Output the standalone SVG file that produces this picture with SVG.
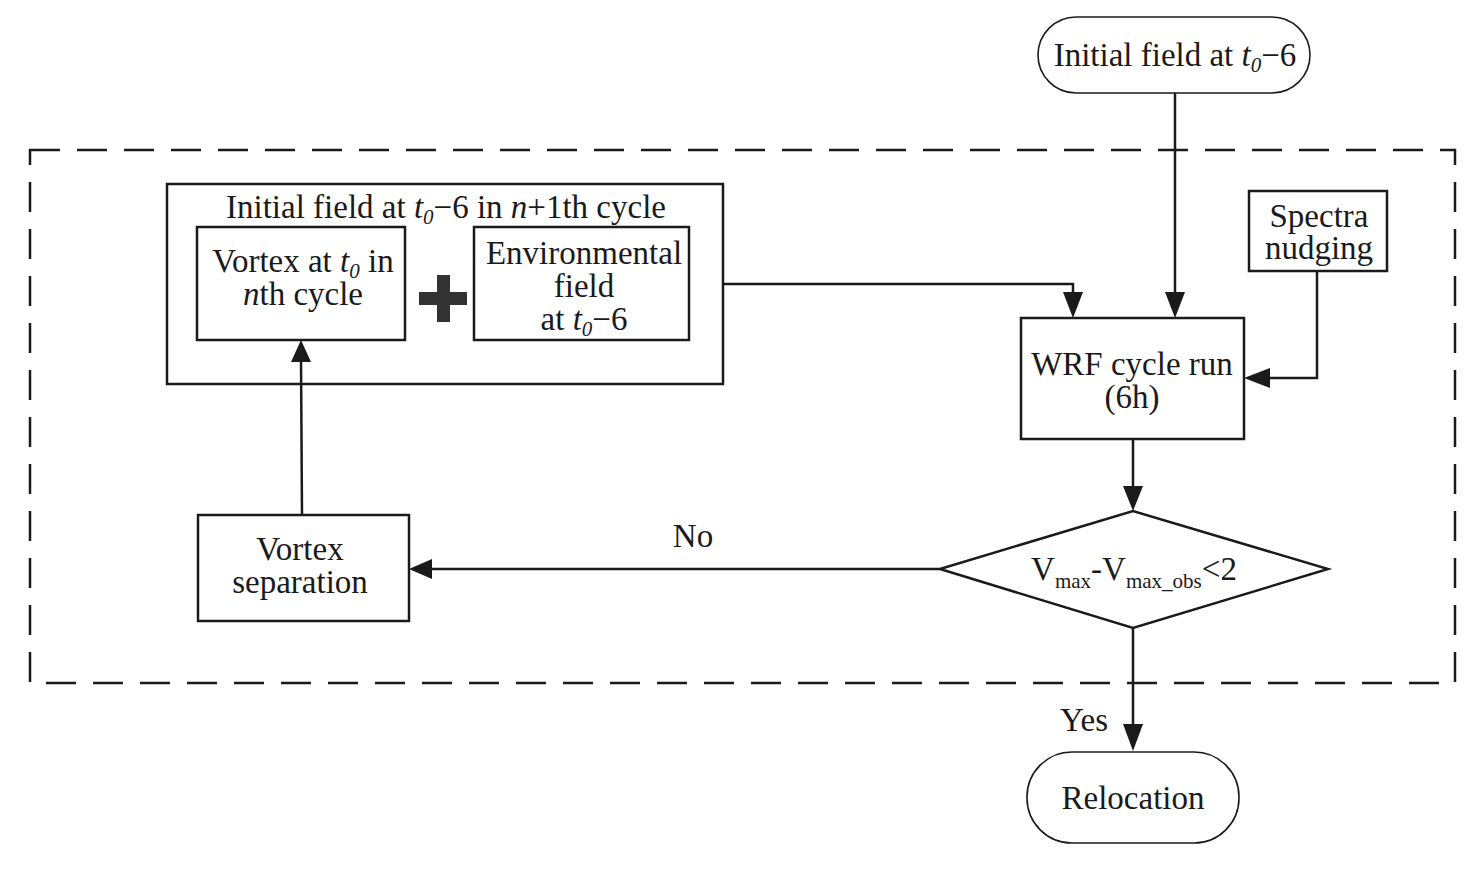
<svg xmlns="http://www.w3.org/2000/svg" width="1481" height="869" viewBox="0 0 1481 869">
<defs>
<style>
text{font-family:"Liberation Serif","Times New Roman",serif;font-size:33px;fill:#1a1a1a;text-anchor:middle}
.box{fill:none;stroke:#1a1a1a;stroke-width:2.5}
.pill{fill:none;stroke:#1a1a1a;stroke-width:1.6}
.ln{fill:none;stroke:#1a1a1a;stroke-width:2.5}
.i{font-style:italic}
.sub{font-size:21px;font-style:italic}
.s2{font-size:21px}
</style>
</defs>
<rect width="1481" height="869" fill="#fff"/>
<rect x="30" y="150" width="1425" height="533" fill="none" stroke="#1a1a1a" stroke-width="2.5" stroke-dasharray="30,17"/>

<g id="connectors">
<path class="ln" d="M723,284 H1073 V296" />
<path d="M1063,292 L1083,292 L1073,318 Z" fill="#1a1a1a"/>
<path class="ln" d="M1175,93 V296"/>
<path d="M1165,292 L1185,292 L1175,318 Z" fill="#1a1a1a"/>
<path class="ln" d="M1317,271 V378 H1266"/>
<path d="M1270,368 L1270,388 L1244,378 Z" fill="#1a1a1a"/>
<path class="ln" d="M1133,439 V490"/>
<path d="M1123,486 L1143,486 L1133,511 Z" fill="#1a1a1a"/>
<path class="ln" d="M940,569 H428"/>
<path d="M432,559 L432,579 L409,569 Z" fill="#1a1a1a"/>
<path class="ln" d="M302,515 L301,360"/>
<path d="M291,362 L311,362 L301,340 Z" fill="#1a1a1a"/>
<path class="ln" d="M1133,628 V728"/>
<path d="M1123,724 L1143,724 L1133,751 Z" fill="#1a1a1a"/>
<text x="693" y="547">No</text>
<text x="1084" y="731">Yes</text>
</g>

<g id="initial-top">
<rect class="pill" x="1038" y="17" width="272" height="76" rx="38"/>
<text x="1175" y="66">Initial field at <tspan class="i">t</tspan><tspan class="sub" dy="6">0</tspan><tspan dy="-6">−6</tspan></text>
</g>

<g id="initial-n1">
<rect class="box" x="167" y="184" width="556" height="200"/>
<text x="446" y="218">Initial field at <tspan class="i">t</tspan><tspan class="sub" dy="6">0</tspan><tspan dy="-6">−6 in </tspan><tspan class="i">n</tspan>+1th cycle</text>
</g>

<g id="vortex-nth">
<rect class="box" x="197" y="227" width="208" height="113"/>
<text x="303" y="272">Vortex at <tspan class="i">t</tspan><tspan class="sub" dy="6">0</tspan><tspan dy="-6"> in</tspan></text>
<text x="303" y="305"><tspan class="i">n</tspan>th cycle</text>
</g>

<g id="plus">
<rect x="419" y="292" width="48" height="13" fill="#333"/>
<rect x="437" y="275" width="13" height="47" fill="#333"/>
</g>

<g id="env">
<rect class="box" x="474" y="227" width="215" height="113"/>
<text x="584" y="264">Environmental</text>
<text x="584" y="297">field</text>
<text x="584" y="330">at <tspan class="i">t</tspan><tspan class="sub" dy="6">0</tspan><tspan dy="-6">−6</tspan></text>
</g>

<g id="wrf">
<rect class="box" x="1021" y="318" width="223" height="121"/>
<text x="1132" y="375">WRF cycle run</text>
<text x="1132" y="408">(6h)</text>
</g>

<g id="spectra">
<rect class="box" x="1249" y="191" width="138" height="80"/>
<text x="1319" y="227">Spectra</text>
<text x="1319" y="259">nudging</text>
</g>

<g id="decision">
<path class="box" d="M940,569 L1133,511 L1328,569 L1133,628 Z"/>
<text x="1134" y="580">V<tspan class="s2" dy="8">max</tspan><tspan dy="-8">-V</tspan><tspan class="s2" dy="8">max_obs</tspan><tspan dy="-8">&lt;2</tspan></text>
</g>

<g id="vortex-sep">
<rect class="box" x="198" y="515" width="211" height="106"/>
<text x="300" y="560">Vortex</text>
<text x="300" y="593">separation</text>
</g>

<g id="relocation">
<rect class="pill" x="1027" y="752" width="212" height="91" rx="45"/>
<text x="1133" y="809">Relocation</text>
</g>
</svg>
